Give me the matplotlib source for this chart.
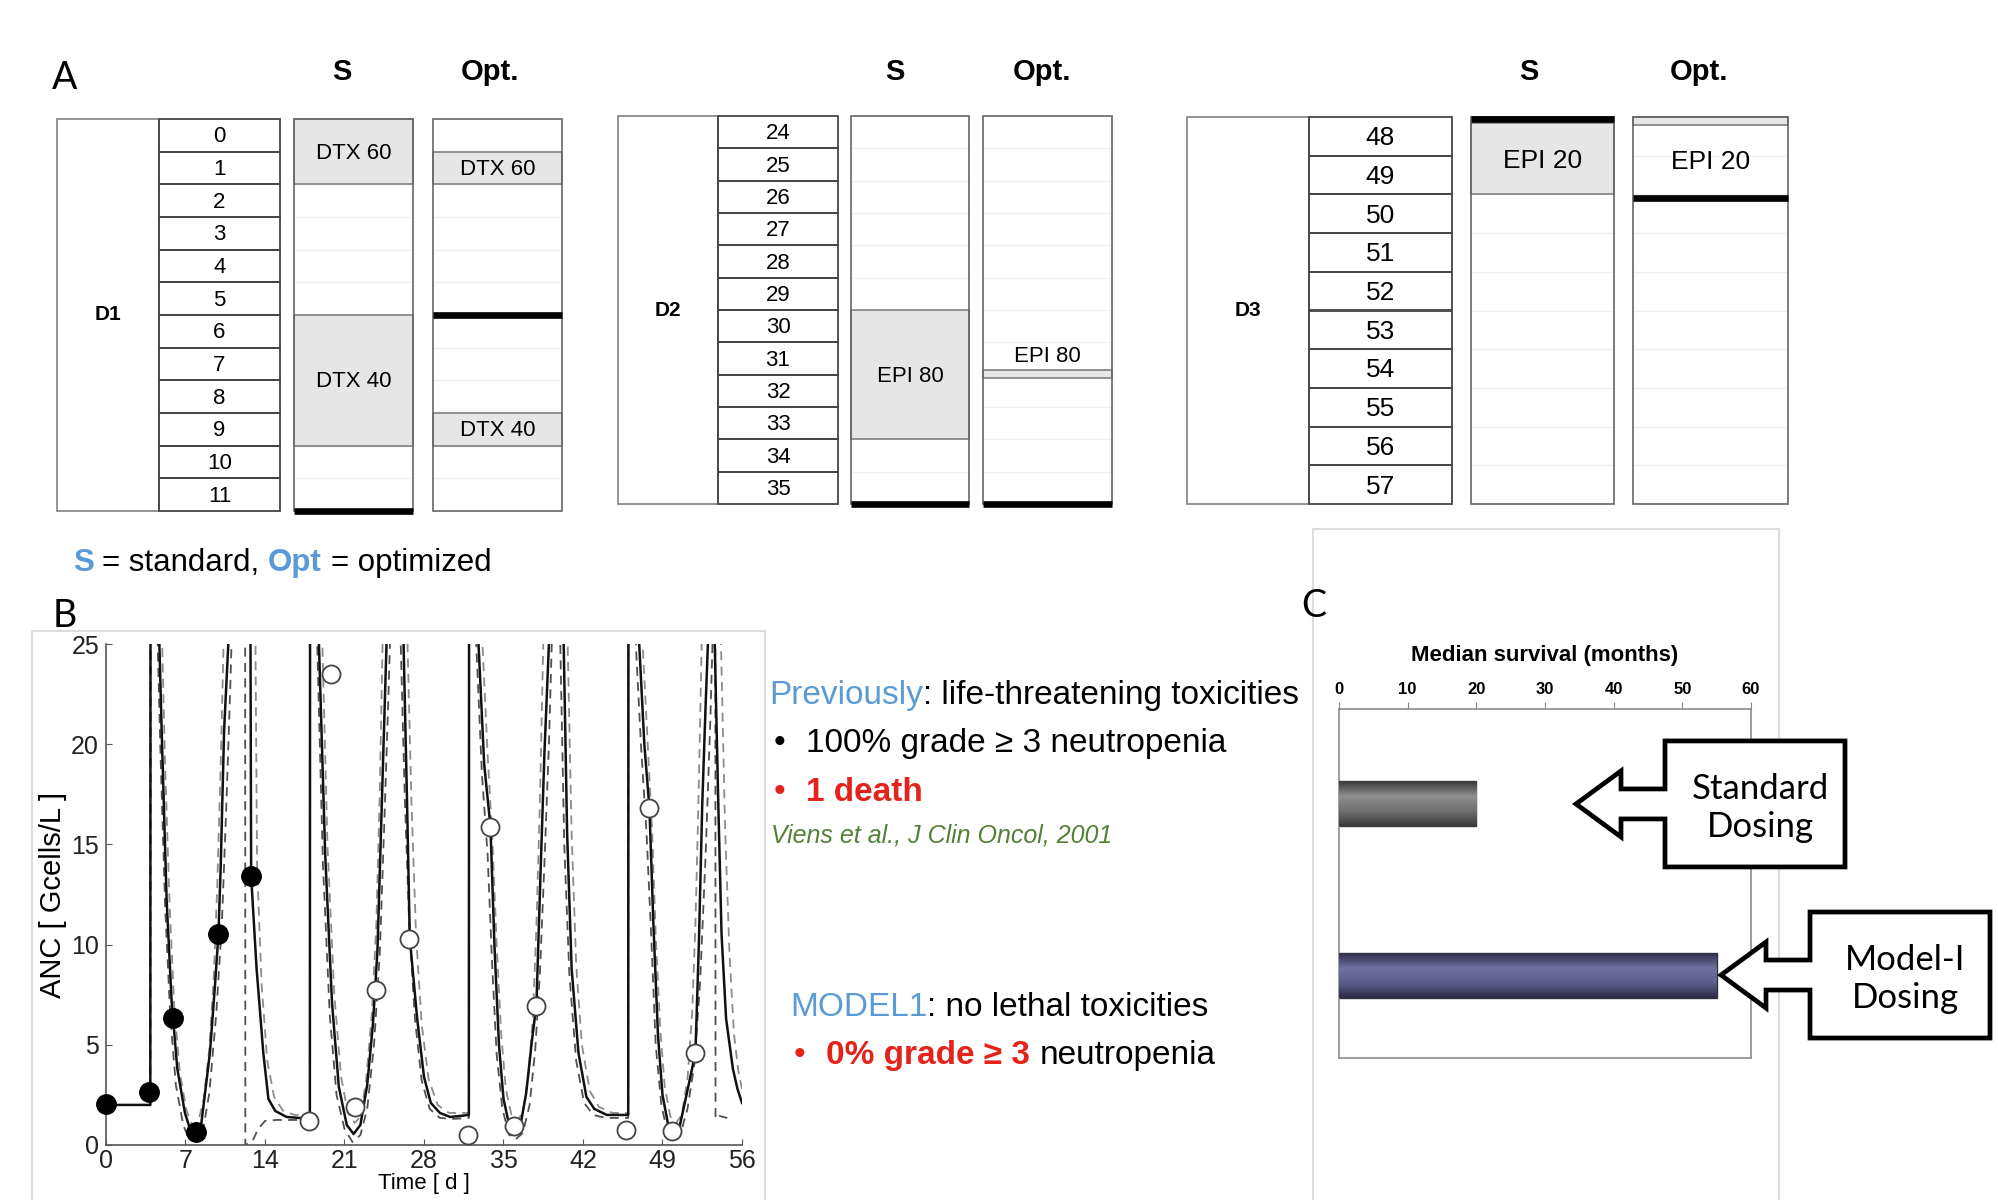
import numpy as np
import matplotlib
matplotlib.use("Agg")
import matplotlib.pyplot as plt
from matplotlib.patches import Rectangle, Polygon
from matplotlib.colors import LinearSegmentedColormap

W, H = 1999, 1200
SANS = ['Liberation Sans', 'DejaVu Sans']
CAL = ['Lato', 'DejaVu Sans']
BLUE = '#5b9bd5'
RED = '#e3231c'
GREEN = '#538135'
plt.rcParams['font.family'] = SANS

# ---------------- panel A: dosing schedules ----------------
d1_days = [0, 1, 2, 3, 4, 5, 6, 7, 8, 9, 10, 11]
d1_std = [('DTX 60', 0, 2, None), ('DTX 40', 6, 10, None)]
d1_opt = [('DTX 60', 1, 2, None), ('DTX 40', 9, 10, None)]
d1_thick = [('S', 12), ('Opt', 6)]

d2_days = [24, 25, 26, 27, 28, 29, 30, 31, 32, 33, 34, 35]
d2_std = [('EPI 80', 30, 34, None)]
d2_opt = [('EPI 80', 31.85, 32.1, 31.4)]
d2_thick = [('S', 36), ('Opt', 36)]

d3_days = [48, 49, 50, 51, 52, 53, 54, 55, 56, 57]
d3_std = [('EPI 20', 48.15, 50, None)]
d3_opt = [('EPI 20', 48.0, 48.2, 49.1)]
d3_thick = [('S', 48.06), ('Opt', 50.1)]

# ---------------- panel B: ANC time course ----------------
model = [(0, 2.0), (3.9, 2.0), (3.92, 30), (4.55, 30), (4.7, 25.0), (4.9, 20.7), (5.34, 12.2),
         (5.78, 7.15), (6.28, 3.8), (6.95, 1.6), (7.4, 0.8), (7.7, 0.6), (8.0, 0.65), (8.4, 1.1),
         (9.15, 4.6), (9.6, 8.0), (9.9, 10.5), (10.1, 13.9), (10.4, 20.7), (10.77, 25.0), (11.0, 30),
         (12.7, 30), (12.78, 13.4), (13.26, 8.8), (13.85, 4.6), (14.3, 2.3), (14.9, 1.7), (15.9, 1.4),
         (17.0, 1.35), (17.95, 1.35), (17.97, 30),
         (18.6, 30), (18.75, 25.0), (19.3, 14.5), (19.9, 7.1), (20.5, 2.9), (21.2, 1.0), (21.8, 0.55),
         (22.4, 1.0), (23.0, 3.0), (23.5, 6.0), (23.9, 9.7), (24.3, 17.3), (24.7, 25.0), (24.9, 30),
         (26.0, 30), (26.2, 25.0), (26.5, 17.3), (26.75, 10.3), (27.4, 6.3), (28.0, 3.4), (28.6, 2.1),
         (29.4, 1.6), (30.3, 1.4), (31.2, 1.45), (31.95, 1.5), (31.97, 30),
         (32.6, 30), (32.8, 25.0), (33.3, 19.0), (33.85, 15.9), (34.2, 10.0), (34.6, 5.0), (35.0, 2.3),
         (35.5, 1.0), (36.0, 0.75), (36.5, 1.0), (37.0, 2.6), (37.5, 5.2), (37.9, 7.0), (38.2, 12.5),
         (38.6, 19.5), (39.0, 25.0), (39.2, 30), (40.1, 30), (40.3, 25.0), (40.6, 15.6), (41.0, 8.8),
         (41.6, 4.6), (42.3, 2.4), (43.0, 1.8), (44.1, 1.5), (45.98, 1.5), (46.0, 30),
         (46.7, 30), (46.95, 25.0), (47.4, 20.0), (47.85, 16.8), (48.2, 11.0), (48.6, 5.5), (49.0, 2.5),
         (49.5, 1.0), (50.0, 0.7), (50.5, 0.9), (51.0, 2.2), (51.9, 4.6), (52.2, 10.0), (52.5, 17.0),
         (52.8, 22.0), (53.0, 25.0), (53.2, 30), (53.45, 30), (53.6, 25.0), (53.9, 17.3), (54.2, 10.5),
         (54.6, 6.3), (55.2, 3.8), (55.6, 2.8), (56.0, 2.1)]

band_upper = [(3.9, 2.0), (3.93, 30), (4.8, 30), (4.95, 25.0), (5.2, 19.0), (5.6, 12.0), (6.0, 7.0),
              (6.5, 3.6), (7.1, 1.7), (7.6, 1.0), (8.1, 1.1), (8.6, 2.3), (9.1, 4.8), (9.5, 8.5),
              (9.8, 13.0), (10.1, 19.0), (10.35, 25.0), (10.5, 30), (13.1, 30), (13.3, 14.0), (13.7, 8.0),
              (14.2, 4.2), (14.8, 2.4), (15.6, 1.7), (16.6, 1.5), (17.95, 1.5), (17.97, 30),
              (18.9, 30), (19.05, 25.0), (19.5, 15.0), (20.1, 7.5), (20.7, 3.4), (21.3, 1.6), (21.9, 1.1),
              (22.4, 1.4), (22.9, 3.2), (23.4, 6.5), (23.8, 11.0), (24.1, 17.5), (24.35, 25.0), (24.5, 30),
              (26.4, 30), (26.55, 25.0), (26.9, 17.0), (27.3, 10.5), (27.8, 6.0), (28.4, 3.3), (29.2, 2.0),
              (30.2, 1.6), (31.95, 1.6), (31.97, 30),
              (33.0, 30), (33.15, 25.0), (33.6, 19.5), (34.0, 15.5), (34.4, 10.0), (34.8, 5.5), (35.2, 2.8),
              (35.7, 1.5), (36.2, 1.2), (36.7, 1.6), (37.2, 3.5), (37.6, 6.5), (37.9, 11.0), (38.2, 17.0),
              (38.5, 25.0), (38.6, 30), (40.5, 30), (40.65, 25.0), (41.0, 15.5), (41.4, 9.0), (41.9, 5.0),
              (42.6, 2.7), (43.4, 1.9), (44.6, 1.6), (45.98, 1.6), (46.0, 30),
              (47.1, 30), (47.25, 25.0), (47.7, 20.0), (48.1, 15.5), (48.4, 10.5), (48.8, 5.8), (49.2, 2.9),
              (49.7, 1.4), (50.2, 1.1), (50.7, 1.5), (51.2, 3.3), (51.6, 6.5), (51.9, 11.0), (52.2, 18.0),
              (52.45, 25.0), (52.6, 30), (54.0, 30), (54.15, 25.0), (54.5, 16.0), (54.9, 9.5), (55.3, 5.5),
              (55.7, 3.6), (56.0, 2.8)]

band_lower = [(3.9, 2.0), (3.93, 30), (4.4, 30), (4.55, 25.0), (4.8, 19.5), (5.2, 12.0), (5.65, 6.5),
              (6.15, 3.0), (6.8, 1.0), (7.3, 0.3), (7.9, 0.2), (8.5, 0.6), (9.1, 2.6), (9.7, 6.5),
              (10.2, 11.0), (10.6, 17.0), (10.95, 23.0), (11.05, 25.0), (11.2, 30), (12.25, 30), (12.27, 0.0),
              (12.9, 0.2), (13.4, 0.8), (14.0, 1.2), (15.0, 1.25), (17.95, 1.25), (17.97, 30),
              (18.45, 30), (18.6, 25.0), (19.1, 14.0), (19.7, 6.5), (20.3, 2.5), (21.0, 0.8), (21.7, 0.15),
              (22.4, 0.5), (23.0, 1.8), (23.6, 5.0), (24.1, 9.5), (24.5, 16.0), (24.9, 23.0), (25.0, 25.0),
              (25.1, 30), (25.8, 30), (25.95, 25.0), (26.3, 17.5), (26.7, 11.0), (27.2, 6.3), (27.8, 3.2),
              (28.5, 1.8), (29.4, 1.35), (30.5, 1.3), (31.95, 1.35), (31.97, 30),
              (32.45, 30), (32.6, 25.0), (33.1, 18.5), (33.6, 14.5), (34.0, 9.0), (34.4, 4.5), (34.9, 1.8),
              (35.5, 0.5), (36.1, 0.3), (36.7, 0.6), (37.3, 2.0), (37.8, 4.8), (38.2, 8.5), (38.6, 14.0),
              (39.0, 20.0), (39.25, 25.0), (39.4, 30), (39.85, 30), (40.0, 25.0), (40.35, 15.0), (40.8, 8.5),
              (41.4, 4.2), (42.1, 2.1), (42.9, 1.5), (44.0, 1.35), (45.98, 1.35), (46.0, 30),
              (46.5, 30), (46.65, 25.0), (47.1, 20.0), (47.6, 15.5), (48.0, 10.5), (48.4, 5.0), (48.9, 2.0),
              (49.4, 0.7), (50.0, 0.3), (50.6, 0.6), (51.2, 1.8), (51.8, 4.0), (52.3, 8.0), (52.8, 14.5),
              (53.2, 21.0), (53.4, 25.0), (53.5, 30), (53.65, 30), (53.67, 1.3), (54.0, 1.45), (54.7, 1.35)]

obs_prev_t = [0, 3.83, 5.92, 7.92, 9.88, 12.78]
obs_prev_anc = [2.03, 2.64, 6.35, 0.67, 10.51, 13.44]
obs_new_t = [17.9, 19.8, 21.9, 23.8, 26.7, 31.9, 33.8, 35.9, 37.9, 45.8, 47.8, 49.8, 51.9]
obs_new_anc = [1.18, 23.5, 1.88, 7.74, 10.3, 0.51, 15.86, 0.95, 6.94, 0.74, 16.8, 0.70, 4.6]

# ---------------- panel C: median survival ----------------
dosing = ['Standard\nDosing', 'Model-I\nDosing']
survival_months = [20, 55]
bar_pos = [0, 1]
bar_colors = [['#3a3a3a', '#8e8e8e', '#707070', '#3a3a3a'],
              ['#2f2f4a', '#71719f', '#5d5d8a', '#2c2c46']]
callout_tip_px = [1576, 1721]

fig = plt.figure(figsize=(W / 100, H / 100), dpi=100)
fig.patch.set_facecolor('white')

# background overlay in pixel coordinates (y down)
ov = fig.add_axes([0, 0, 1, 1])
ov.set_xlim(0, W)
ov.set_ylim(H, 0)
ov.axis('off')
renderer = fig.canvas.get_renderer()


def rich(ax, x, y, parts, **common):
    for txt, kw in parts:
        opts = dict(common)
        opts.update(kw)
        if txt == ' ':
            a = ax.text(0, 0, 'a a', **opts)
            b = ax.text(0, 0, 'aa', **opts)
            x += a.get_window_extent(renderer).width - b.get_window_extent(renderer).width
            a.remove()
            b.remove()
            continue
        t = ax.text(x, y, txt, ha='left', va='baseline', **opts)
        x += t.get_window_extent(renderer).width


def draw_group(rect, name, days, cols, std, opt, thick, num_size, lab_size):
    left, top, right, bottom = rect
    ax = fig.add_axes([left / W, 1 - bottom / H, (right - left) / W, (bottom - top) / H])
    ax.set_xlim(0, right - left)
    ax.set_ylim(days[-1] + 1, days[0])
    ax.axis('off')
    (lab_l, lab_r), (num_l, num_r), s_col, o_col = cols
    n = len(days)
    ax.add_patch(Rectangle((lab_l, days[0]), lab_r - lab_l, n, fill=False,
                           ec='#808080', lw=1.2, clip_on=False))
    ax.text((lab_l + lab_r) / 2, days[0] + n / 2, name, ha='center', va='center',
            weight='bold', size=15)
    for d in days:
        ax.add_patch(Rectangle((num_l, d), num_r - num_l, 1, fill=False,
                               ec='#454545', lw=1.3, clip_on=False))
        ax.text((num_l + num_r) / 2, d + 0.55, str(d), ha='center', va='center', size=num_size)
    for (cl, cr), blocks in [(s_col, std), (o_col, opt)]:
        for d in days[1:]:
            ax.plot([cl, cr], [d, d], color='#f0f0f0', lw=1, zorder=1)
        for label, a, b, at in blocks:
            ax.add_patch(Rectangle((cl, a), cr - cl, b - a, fc='#e6e6e6', ec='#808080',
                                   lw=1.2, zorder=2, clip_on=False))
            ty = (a + b) / 2 if at is None else at
            ax.text((cl + cr) / 2, ty + 0.05, label, ha='center', va='center',
                    size=lab_size, zorder=4)
        ax.add_patch(Rectangle((cl, days[0]), cr - cl, n, fill=False, ec='#666666',
                               lw=1.2, zorder=3, clip_on=False))
    for col, d in thick:
        cl, cr = s_col if col == 'S' else o_col
        ax.plot([cl, cr], [d, d], color='black', lw=4.8, solid_capstyle='butt',
                zorder=5, clip_on=False)
    return ax


draw_group((57, 119, 562, 511), 'D1', d1_days, [(0, 102), (102, 223), (237, 356), (376, 505)],
           d1_std, d1_opt, d1_thick, 16, 16)
draw_group((618, 116, 1112, 504), 'D2', d2_days, [(0, 100), (100, 220), (233, 351), (365, 494)],
           d2_std, d2_opt, d2_thick, 16, 16)
draw_group((1187, 117, 1788, 504), 'D3', d3_days, [(0, 122), (122, 265), (284, 427), (446, 601)],
           d3_std, d3_opt, d3_thick, 19, 19)

for xs, xo in [(342, 490), (895, 1042), (1529, 1699)]:
    ov.text(xs, 72, 'S', ha='center', va='center', weight='bold', size=21)
    ov.text(xo, 72, 'Opt.', ha='center', va='center', weight='bold', size=21)

ov.text(65, 78, 'A', ha='center', va='center', size=27, family=CAL)
ov.text(65, 616, 'B', ha='center', va='center', size=27, family=CAL)
ov.text(1314, 606, 'C', ha='center', va='center', size=27, family=CAL)

rich(ov, 73, 571, [('S', dict(color=BLUE, weight='bold')), (' ', {}),
                   ('= standard,', {}), (' ', {}),
                   ('Opt', dict(color=BLUE, weight='bold')), (' ', {}),
                   ('= optimized', {})], size=22.5)

# panel frames
frame = dict(color='#dcdcdc', lw=1.5)
ov.plot([32, 32, 765, 765], [H, 631, 631, H], **frame)
ov.plot([1313, 1313, 1779, 1779], [H, 529, 529, H], **frame)

# panel B text
rich(ov, 769, 704, [('Previously', dict(color=BLUE)), (': life-threatening toxicities', {})], size=24)
ov.text(774, 752, '•', size=24, va='baseline')
ov.text(806, 752, '100% grade ≥ 3 neutropenia', size=24, va='baseline')
ov.text(774, 801, '•', size=24, va='baseline', color=RED)
ov.text(806, 801, '1 death', size=24, va='baseline', color=RED, weight='bold')
ov.text(771, 842, 'Viens et al., J Clin Oncol, 2001', size=18, va='baseline', color=GREEN, style='italic')
rich(ov, 790, 1016, [('MODEL1', dict(color=BLUE)), (': no lethal toxicities', {})], size=24)
ov.text(794, 1064, '•', size=24, va='baseline', color=RED)
rich(ov, 826, 1064, [('0% grade ≥ 3', dict(color=RED, weight='bold')), (' ', {}),
                     ('neutropenia', {})], size=24)

# ---------------- panel B axes ----------------
axb = fig.add_axes([106 / W, 1 - 1145 / H, 636 / W, 501 / H])
axb.set_facecolor('none')
t, y = np.array(band_upper).T
axb.plot(t, y, color='#8c8c8c', lw=1.3, ls=(0, (5, 3.5)), zorder=2)
t, y = np.array(band_lower).T
axb.plot(t, y, color='#505050', lw=1.3, ls=(0, (5, 3.5)), zorder=2)
t, y = np.array(model).T
axb.plot(t, y, color='#111111', lw=1.8, zorder=3)
axb.plot(obs_prev_t, obs_prev_anc, 'o', ms=14, mfc='black', mec='black', zorder=5, clip_on=False)
axb.plot(obs_new_t, obs_new_anc, 'o', ms=13, mfc='white', mec='#444444', mew=1.3, zorder=5,
         clip_on=False)
axb.set_xlim(0, 56)
axb.set_ylim(0, 25)
axb.set_xticks(np.arange(0, 57, 7))
axb.set_yticks(np.arange(0, 26, 5))
for s in ['top', 'right']:
    axb.spines[s].set_visible(False)
for s in ['left', 'bottom']:
    axb.spines[s].set_color('#555555')
    axb.spines[s].set_linewidth(1.2)
axb.tick_params(direction='in', length=4, color='#555555', labelsize=18, labelcolor='#222222')
axb.tick_params(axis='x', pad=3)
axb.tick_params(axis='y', pad=5)
axb.set_xlabel('Time [ d ]', size=16, labelpad=0)
axb.set_ylabel('ANC [ Gcells/L ]', size=21, labelpad=3)

# ---------------- panel C axes ----------------
axc = fig.add_axes([1339 / W, 1 - 1058 / H, 412 / W, 349 / H])
bar_h = 0.263
bars = axc.barh(bar_pos, survival_months, height=bar_h, color=[c[1] for c in bar_colors],
                edgecolor=[c[0] for c in bar_colors], lw=1, zorder=2)
grad = np.linspace(0, 1, 120).reshape(-1, 1)
for patch, cols in zip(bars, bar_colors):
    x0, y0 = patch.get_x(), patch.get_y()
    im = axc.imshow(grad, extent=[x0, x0 + patch.get_width(), y0, y0 + patch.get_height()],
                    cmap=LinearSegmentedColormap.from_list('g', cols), aspect='auto',
                    origin='lower', zorder=3)
    im.set_clip_path(patch)
axc.set_xlim(0, 60)
axc.set_ylim(1.485, -0.555)
axc.set_yticks([])
axc.xaxis.tick_top()
axc.xaxis.set_label_position('top')
axc.set_xticks(np.arange(0, 61, 10))
axc.tick_params(axis='x', length=5, color='#888888', labelsize=12, pad=4)
for lab in axc.get_xticklabels():
    lab.set_fontweight('bold')
axc.set_xlabel('Median survival (months)', weight='bold', size=16, labelpad=15)
for s in axc.spines.values():
    s.set_color('#8c8c8c')
    s.set_linewidth(1.2)

# callouts on top
top = fig.add_axes([0, 0, 1, 1], zorder=10)
top.set_xlim(0, W)
top.set_ylim(H, 0)
top.axis('off')
head_len, shaft_len, head_half, shaft_half, box_w, box_half = 45, 44, 33, 15, 180, 63
for label, pos, tip_x in zip(dosing, bar_pos, callout_tip_px):
    ty = H - axc.transData.transform((0, pos))[1]
    hb = tip_x + head_len
    bl = hb + shaft_len
    verts = [(bl, ty - box_half), (bl + box_w, ty - box_half), (bl + box_w, ty + box_half),
             (bl, ty + box_half), (bl, ty + shaft_half), (hb, ty + shaft_half), (hb, ty + head_half),
             (tip_x, ty), (hb, ty - head_half), (hb, ty - shaft_half), (bl, ty - shaft_half)]
    top.add_patch(Polygon(verts, closed=True, fc='white', ec='black', lw=3.4, joinstyle='miter'))
    top.text(bl + box_w / 2 + 5, ty + 4, label, ha='center', va='center', size=25, family=CAL,
             linespacing=1.25)

fig.savefig('out.png', dpi=100)
